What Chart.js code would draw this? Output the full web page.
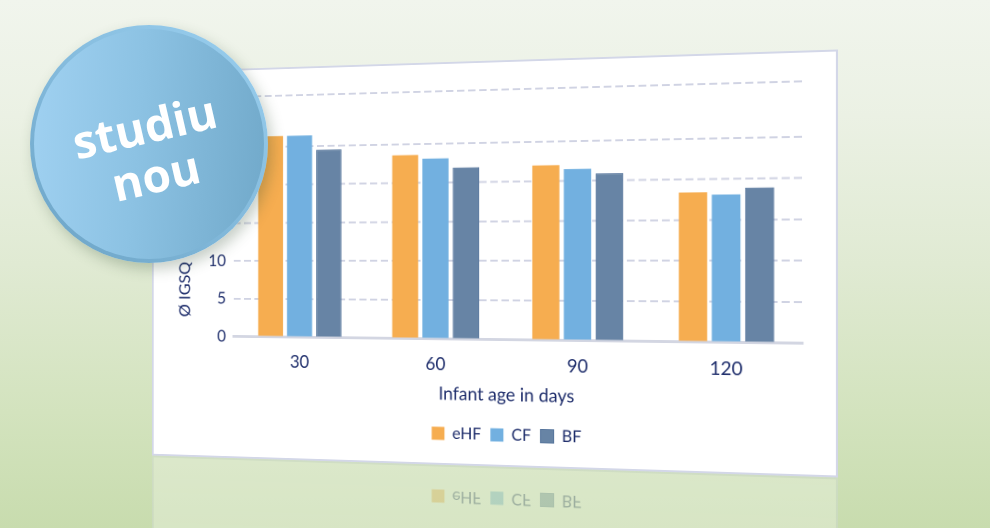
<!DOCTYPE html>
<html><head><meta charset="utf-8">
<script src="https://cdn.jsdelivr.net/npm/chart.js@4"></script>
<style>
html,body{margin:0;padding:0;width:990px;height:528px;overflow:hidden;}
body{position:relative;background:linear-gradient(to bottom,#f1f5ed 0%,#ebf1e4 22%,#e0eAd3 50%,#d3e3be 78%,#c8dcae 100%);font-family:Lato,sans-serif;}
#card{position:absolute;left:0;top:0;width:740px;height:430px;transform-origin:0 0;
  -webkit-box-reflect: below 0px linear-gradient(to bottom, rgba(0,0,0,0.36), rgba(0,0,0,0.26));}
#cardbg{position:absolute;left:0;top:0;width:740px;height:430px;background:#fff;border:2px solid #d3d7e8;box-sizing:border-box;}
#chart{position:absolute;left:0;top:0;width:740px;height:430px;}
#badge{position:absolute;left:30px;top:25px;width:238px;height:238px;border-radius:50%;
  background:linear-gradient(40deg,#6aa2c4 0%,#7fb6d8 40%,#9bd0f0 100%);
  box-shadow:4px 6px 14px rgba(50,80,50,0.28);}
#badgeIn{position:absolute;left:4px;top:4px;right:4px;bottom:4px;border-radius:50%;
  background:linear-gradient(95deg,#a0d1f1 0%,#8cc2e3 45%,#71a9ca 100%);}
#badgeTxt{position:absolute;left:0;top:0;width:238px;height:238px;display:flex;flex-direction:column;align-items:center;justify-content:center;
  color:#fff;font-family:'Open Sans',sans-serif;font-weight:700;font-size:46px;line-height:50px;transform:translate(1px,6px) rotate(-13deg);}
</style></head>
<body>
<div id="card"><div id="cardbg"></div><canvas id="chart" width="740" height="430"></canvas></div>
<div id="badge"><div id="badgeIn"></div><div id="badgeTxt"></div></div>
<script>
const categories = ['30','60','90','120'];
const seriesNames = ['eHF','CF','BF'];
const eHF = [26.4, 23.6, 22.0, 18.4];
const CF  = [26.4, 23.1, 21.5, 18.1];
const BF  = [24.5, 21.9, 20.9, 18.9];
const yTickValues = [0,5,10,15,20,25];
const yMax = 31.7;
const xTitle = 'Infant age in days';
const yTitle = 'Ø IGSQ';
const badgeLines = ['studiu','nou'];

const navy = '#1e2d6b';
const seriesColors = ['#f6ad50','#72b0e0','#6784a5'];

const bt = document.getElementById('badgeTxt');
badgeLines.forEach(t=>{const d=document.createElement('div');d.textContent=t;bt.appendChild(d);});

function adj(m){return [m[4]*m[8]-m[5]*m[7],m[2]*m[7]-m[1]*m[8],m[1]*m[5]-m[2]*m[4],
 m[5]*m[6]-m[3]*m[8],m[0]*m[8]-m[2]*m[6],m[2]*m[3]-m[0]*m[5],
 m[3]*m[7]-m[4]*m[6],m[1]*m[6]-m[0]*m[7],m[0]*m[4]-m[1]*m[3]];}
function mm(a,b){const c=[];for(let i=0;i<3;i++)for(let j=0;j<3;j++){let s=0;for(let k=0;k<3;k++)s+=a[3*i+k]*b[3*k+j];c[3*i+j]=s;}return c;}
function mv(m,v){return [m[0]*v[0]+m[1]*v[1]+m[2]*v[2],m[3]*v[0]+m[4]*v[1]+m[5]*v[2],m[6]*v[0]+m[7]*v[1]+m[8]*v[2]];}
function basis(p){const m=[p[0][0],p[1][0],p[2][0],p[0][1],p[1][1],p[2][1],1,1,1];const v=mv(adj(m),[p[3][0],p[3][1],1]);return mm(m,[v[0],0,0,0,v[1],0,0,0,v[2]]);}
function proj(src,dst){return mm(basis(dst),adj(basis(src)));}
(function(){
  const W=740,H=430;
  const src=[[0,0],[W,0],[0,H],[W,H]];
  const dst=[[152,71.5],[838,49.5],[152,455.5],[838,477.5]];
  let t=proj(src,dst);for(let i=0;i<9;i++)t[i]=t[i]/t[8];
  const m=[t[0],t[3],0,t[6],t[1],t[4],0,t[7],0,0,1,0,t[2],t[5],0,t[8]];
  document.getElementById('card').style.transform='matrix3d('+m.join(',')+')';
})();

const yTitlePlugin = {id:'yTitle', afterDraw(chart){
  const {ctx, chartArea, scales:{y}} = chart;
  ctx.save();
  ctx.translate(chartArea.left-57.5, y.getPixelForValue(6.2));
  ctx.rotate(-Math.PI/2);
  ctx.font='18px Lato'; ctx.fillStyle=navy; ctx.textAlign='center'; ctx.textBaseline='middle';
  ctx.fillText(yTitle,0,0);
  ctx.restore();
}};

new Chart(document.getElementById('chart'), {
  type:'bar',
  data:{labels:categories, datasets:[
    {label:seriesNames[0], data:eHF, backgroundColor:seriesColors[0], borderWidth:0},
    {label:seriesNames[1], data:CF, backgroundColor:seriesColors[1], borderWidth:0},
    {label:seriesNames[2], data:BF, backgroundColor:seriesColors[2], borderColor:'#56759c', borderWidth:1}
  ]},
  options:{
    responsive:false, animation:false, devicePixelRatio:2,
    layout:{padding:{left:0,right:34,top:31,bottom:15}},
    datasets:{bar:{categoryPercentage:0.657, barPercentage:0.86}},
    plugins:{
      legend:{position:'bottom', fullSize:false, labels:{boxWidth:14, boxHeight:14, padding:10, color:navy, font:{family:'Lato', size:17}}},
      tooltip:{enabled:false}
    },
    scales:{
      x:{grid:{display:false, drawTicks:false}, border:{display:true, color:'#d3d6e2', width:3},
         ticks:{color:navy, font:{family:'Lato', size:19}, padding:16},
         title:{display:true, text:xTitle, color:navy, font:{family:'Lato', size:19}, padding:{top:4, bottom:12}},
         afterFit(s){ s.height = 82.5; }},
      y:{min:0, max:yMax,
         grid:{color:c=> (c.tick && c.tick.value===0) ? 'rgba(0,0,0,0)' : '#d0d3e3', lineWidth:2, drawTicks:false},
         border:{display:false, dash:[8,4]},
         ticks:{color:navy, font:{family:'Lato', size:18}, padding:9, callback:v=> v>30 ? '' : String(v)},
         afterBuildTicks(s){ s.ticks = yTickValues.concat([yMax]).map(v=>({value:v})); },
         afterFit(s){ s.width = 97; }}
    }
  },
  plugins:[yTitlePlugin]
});
</script>
</body></html>
